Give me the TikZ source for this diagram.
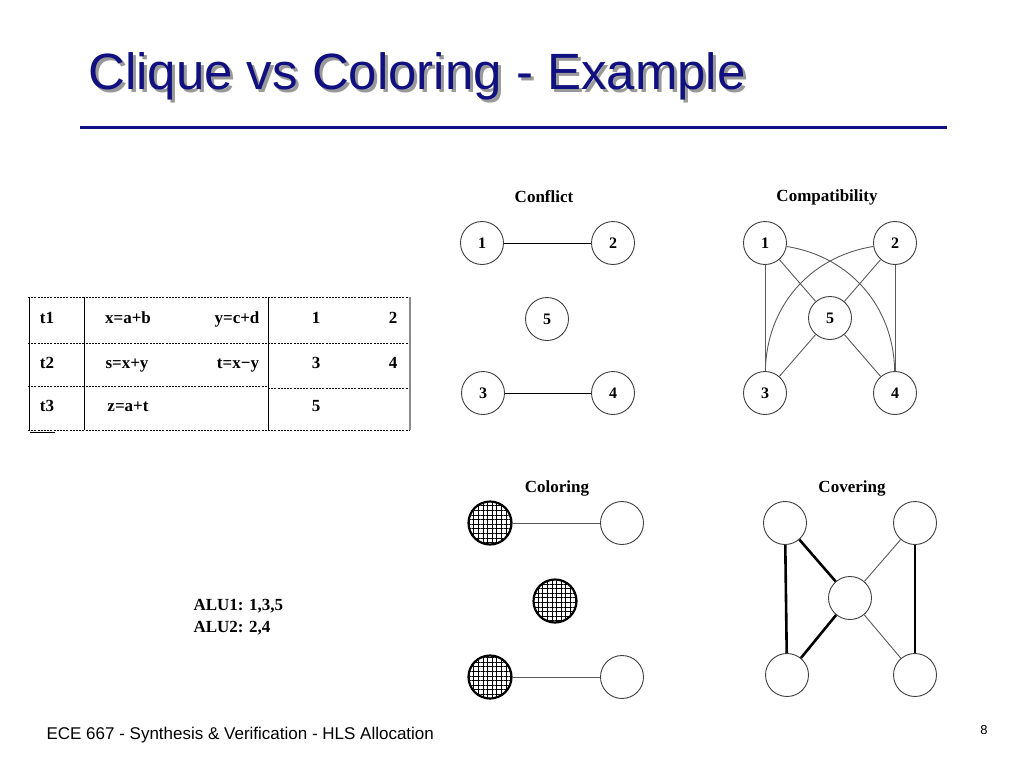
\documentclass[tikz,border=0pt]{standalone}
\usepackage{fontspec}
\setmainfont{Liberation Serif}
\setsansfont{Liberation Sans}
\usetikzlibrary{patterns.meta}
\definecolor{titleblue}{RGB}{16,16,128}
\definecolor{edgegray}{RGB}{90,90,90}
\tikzset{
  vtx/.style={circle, draw=black!75, line width=0.9pt, minimum size=43pt, inner sep=0pt, font=\fontsize{16}{18}\selectfont\bfseries},
  hatched/.style={draw=black, line width=2.2pt, pattern={Hatch[angle=0, distance=4.6pt, line width=0.9pt]}},
  cell/.style={anchor=base, font=\fontsize{17}{20}\selectfont\bfseries},
  head/.style={font=\fontsize{17}{20}\selectfont\bfseries},
  tabdash/.style={line width=0.9pt, dash pattern=on 2pt off 1.2pt},
  thin edge/.style={line width=0.9pt, color=edgegray},
  thick edge/.style={line width=2.6pt, color=black}
}

\begin{document}
\begin{tikzpicture}[x=1pt, y=-1pt]
		%%%%% START %%%%%
		\useasboundingbox[fill=white] (0,0) rectangle (1024,768);
		
		% title with its shadow
		\node[anchor=base west, inner sep=0pt, font=\fontsize{51}{60}\sffamily] (title) at (88,89)
		  {\rlap{\raisebox{-3pt}{\hspace{3pt}\textcolor{black!40}{Clique vs Coloring - Example}}}\textcolor{titleblue}{Clique vs Coloring - Example}};
		\draw[line width=3pt, color=titleblue] (80,127) -- (947,127);
		
		% table
		\draw[tabdash] (28,297) -- (410,297);
		\draw[tabdash] (28,343) -- (410,343);
		\draw[tabdash] (28,386) -- (268,386);
		\draw[tabdash] (268,388) -- (410,388);
		\draw[tabdash] (28,430) -- (410,430);
		\draw[line width=1pt] (29,297) -- (29,430);
		\draw[line width=1pt] (84,297) -- (84,430);
		\draw[line width=1pt] (268,297) -- (268,430);
		\draw[line width=1.6pt, color=black!45] (410,297) -- (410,430);
		\draw[line width=1pt] (30,432) -- (55,432);
		
		\node[cell] (t1) at (47,323) {t1};
		\node[cell] (x1) at (128,323) {x=a+b};
		\node[cell] (y1) at (237,323) {y=c+d};
		\node[cell] (n1) at (316,323) {1};
		\node[cell] (n2) at (393,323) {2};
		\node[cell] (t2) at (47,368) {t2};
		\node[cell] (x2) at (127,368) {s=x+y};
		\node[cell] (y2) at (238,368) {t=x−y};
		\node[cell] (n3) at (316,368) {3};
		\node[cell] (n4) at (393,368) {4};
		\node[cell] (t3) at (47,411) {t3};
		\node[cell] (x3) at (128,411) {z=a+t};
		\node[cell] (n5) at (316,411) {5};
		
		% conflict graph
		\node[head] (hconf) at (544,197) {Conflict};
		\node[vtx] (a1) at (482,243) {1};
		\node[vtx] (a2) at (613,243) {2};
		\node[vtx] (a5) at (547,319) {5};
		\node[vtx] (a3) at (483,393) {3};
		\node[vtx] (a4) at (613,393) {4};
		\draw[line width=0.9pt] (a1) -- (a2);
		\draw[line width=0.9pt] (a3) -- (a4);
		
		% compatibility graph
		\node[head] (hcomp) at (827,197) {Compatibility};
		\node[vtx] (b1) at (765,243) {1};
		\node[vtx] (b2) at (895,243) {2};
		\node[vtx] (b5) at (830,318) {5};
		\node[vtx] (b3) at (765,393) {3};
		\node[vtx] (b4) at (895,393) {4};
		\draw[thin edge] (b1) -- (b3);
		\draw[thin edge] (b2) -- (b4);
		\draw[thin edge] (b1) -- (b5);
		\draw[thin edge] (b2) -- (b5);
		\draw[thin edge] (b5) -- (b3);
		\draw[thin edge] (b5) -- (b4);
		\draw[thin edge] (b1) to[bend left=40] (b4);
		\draw[thin edge] (b2) to[bend right=40] (b3);
		
		% coloring
		\node[head] (hcol) at (557,488) {Coloring};
		\node[vtx, hatched] (c1) at (490,523) {};
		\node[vtx] (c2) at (622,523) {};
		\node[vtx, hatched] (c5) at (555,601) {};
		\node[vtx, hatched] (c3) at (490,677) {};
		\node[vtx] (c4) at (622,677) {};
		\draw[thin edge] (c1) -- (c2);
		\draw[thin edge] (c3) -- (c4);
		
		% covering
		\node[head] (hcov) at (852,488) {Covering};
		\node[vtx] (d1) at (785,523) {};
		\node[vtx] (d2) at (915,523) {};
		\node[vtx] (d5) at (850,598) {};
		\node[vtx] (d3) at (787,675) {};
		\node[vtx] (d4) at (915,675) {};
		\draw[thick edge] (d1) -- (d3);
		\draw[thick edge] (d2) -- (d4);
		\draw[thick edge] (d1) -- (d5);
		\draw[thick edge] (d3) -- (d5);
		\draw[thin edge] (d2) -- (d5);
		\draw[thin edge] (d4) -- (d5);
		
		% allocation
		\node[head, anchor=west] (alu1) at (190,606) {ALU1: 1,3,5};
		\node[head, anchor=west] (alu2) at (190,628) {ALU2: 2,4};
		
		% footer
		\node[anchor=base west, font=\fontsize{17}{20}\sffamily] (foot) at (43,739) {ECE 667 - Synthesis \& Verification - HLS Allocation};
		\node[anchor=base, font=\fontsize{13}{15}\sffamily] (page) at (984,734) {8};
		
		%%%%% END %%%%%
	\end{tikzpicture}
\end{document}
